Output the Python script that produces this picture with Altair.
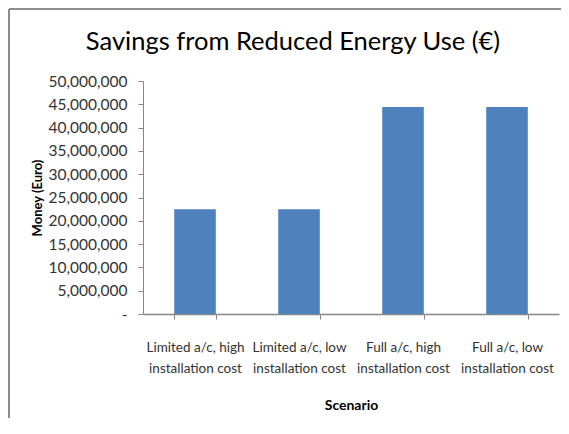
import altair as alt
import pandas as pd

scenarios = [
    "Limited a/c, high\ninstallation cost",
    "Limited a/c, low\ninstallation cost",
    "Full a/c, high\ninstallation cost",
    "Full a/c, low\ninstallation cost",
]
savings = [22500000, 22500000, 44400000, 44400000]

df = pd.DataFrame({"Scenario": scenarios, "Savings": savings})

FONT = "Lato"
W, H = 416, 233

bars = alt.Chart(df).mark_bar(color="#4F81BD").encode(
    x=alt.X(
        "Scenario:N",
        sort=scenarios,
        scale=alt.Scale(paddingInner=0.6, paddingOuter=0.3),
        axis=alt.Axis(
            title="Scenario",
            labelExpr="isValid(datum.value) ? split(datum.value, '\\n') : ''",
            labelAngle=0,
            labelFont=FONT,
            labelFontSize=13.5,
            labelColor="#333333",
            labelPadding=21,
            labelLineHeight=21,
            tickBand="extent",
            tickSize=5,
            tickColor="#868686",
            domainColor="#868686",
            domainWidth=1.5,
            titleFont=FONT,
            titleFontSize=14,
            titleFontWeight="bold",
            titleColor="#000000",
            titlePadding=24,
        ),
    ),
    y=alt.Y(
        "Savings:Q",
        scale=alt.Scale(domain=[0, 50000000]),
        axis=alt.Axis(
            title="Money (Euro)",
            values=list(range(0, 50000001, 5000000)),
            labelExpr="datum.value == 0 ? '-' : format(datum.value, ',')",
            labelFont=FONT,
            labelFontSize=15.5,
            labelColor="#333333",
            labelPadding=11,
            tickSize=5,
            tickColor="#868686",
            domainColor="#868686",
            grid=False,
            titleFont=FONT,
            titleFontSize=13,
            titleFontWeight="bold",
            titleColor="#000000",
            titlePadding=4,
        ),
    ),
)

frame = alt.Data(values=[{}])
top_rule = alt.Chart(frame).mark_rule(color="#8c8c8c", strokeWidth=2).encode(
    x=alt.value(-134), x2=alt.value(430), y=alt.value(-72)
)
left_rule = alt.Chart(frame).mark_rule(color="#8c8c8c", strokeWidth=2).encode(
    x=alt.value(-134), y=alt.value(-72), y2=alt.value(360)
)

chart = alt.layer(bars, top_rule, left_rule).properties(
    width=W,
    height=H,
    autosize=alt.AutoSizeParams(type="none"),
    padding={"left": 135, "top": 73, "right": 2, "bottom": 104},
    title=alt.TitleParams(
        "Savings from Reduced Energy Use (€)",
        font=FONT,
        fontSize=25.5,
        fontWeight="normal",
        color="#000000",
        anchor="middle",
        dx=-58,
        offset=-47,
    ),
).configure_view(stroke=None)

chart.save("out.html", embed_options={"renderer": "svg", "actions": False})
